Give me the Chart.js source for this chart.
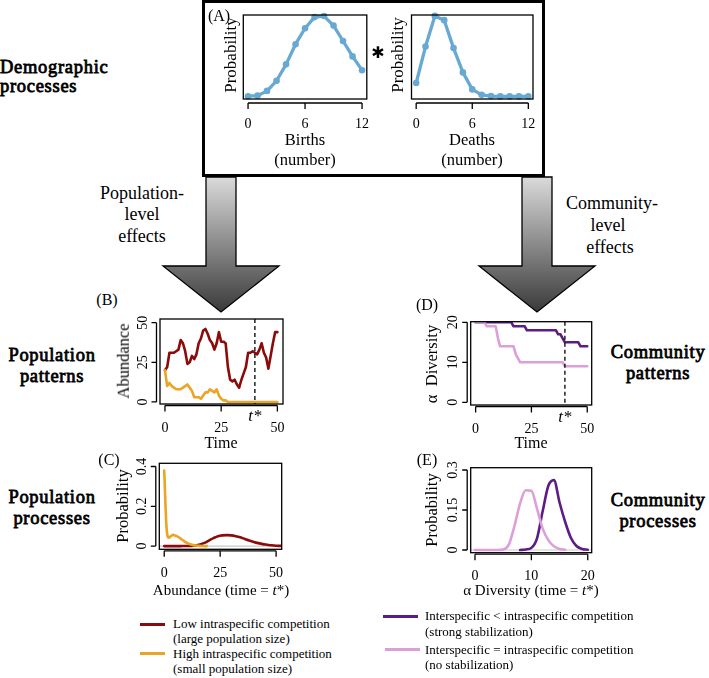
<!DOCTYPE html>
<html>
<head>
<meta charset="utf-8">
<script src="https://cdn.jsdelivr.net/npm/chart.js@4.4.0/dist/chart.umd.min.js"></script>
<style>
  body { margin: 0; background: #fff; width: 709px; height: 678px; position: relative; overflow: hidden;
         font-family: "Liberation Serif", "Times New Roman", serif; color: #000; }
  canvas { position: absolute; }
  .t { position: absolute; white-space: nowrap; line-height: 1; }
  .c { transform: translate(-50%, -50%); }
  .r { transform: translate(-50%, -50%) rotate(-90deg); }
  .l { transform: translate(0, -50%); }
  /* heavy serif headings: regular face thickened so the glyphs stay Times-like */
  .sec { font-size: 18.5px; -webkit-text-stroke: 0.8px #000; letter-spacing: 0.7px; }
  .lg { font-size: 13px; }
  .sw { position: absolute; height: 2.6px; }
</style>
</head>
<body>
<svg width="709" height="678" style="position:absolute;left:0;top:0">
  <defs>
    <linearGradient id="arrowFill" x1="0" y1="177" x2="0" y2="312" gradientUnits="userSpaceOnUse">
      <stop offset="0" stop-color="#dadada"/>
      <stop offset="1" stop-color="#3a3a3a"/>
    </linearGradient>
  </defs>
  <polygon points="206,177 236,177 236,266 279,266 221,312 163,266 206,266" fill="url(#arrowFill)" stroke="#000" stroke-width="1.3"/>
  <polygon points="522,177 552,177 552,266 595,266 537,312 479,266 522,266" fill="url(#arrowFill)" stroke="#000" stroke-width="1.3"/>
</svg>
<div style="position:absolute;left:202px;top:0;width:343px;height:177px;border:3px solid #000;box-sizing:border-box"></div>

<canvas id="cBirths"></canvas>
<canvas id="cDeaths"></canvas>
<canvas id="cPopTime"></canvas>
<canvas id="cPopDens"></canvas>
<canvas id="cComTime"></canvas>
<canvas id="cComDens"></canvas>

<!-- panel A text -->
<div class="t c" style="left:219px;top:16px;font-size:16px">(A)</div>
<div class="t r" style="left:230px;top:55px;font-size:17px">Probability</div>
<div class="t r" style="left:397px;top:55px;font-size:17px">Probability</div>
<div class="t c" style="left:305px;top:140px;font-size:16.5px">Births</div>
<div class="t c" style="left:305px;top:160px;font-size:16.5px">(number)</div>
<div class="t c" style="left:472px;top:140px;font-size:16.5px">Deaths</div>
<div class="t c" style="left:472px;top:160px;font-size:16.5px">(number)</div>
<div class="t c" style="left:378px;top:53px;font-size:16px;font-family:'DejaVu Sans'">✱</div>

<!-- section labels -->
<div class="t l sec" style="left:0px;top:67px">Demographic</div>
<div class="t l sec" style="left:0px;top:86px">processes</div>
<div class="t c sec" style="left:52px;top:355px">Population</div>
<div class="t c sec" style="left:52px;top:376px">patterns</div>
<div class="t c sec" style="left:52px;top:497px">Population</div>
<div class="t c sec" style="left:52px;top:518px">processes</div>
<div class="t c sec" style="left:658px;top:352px">Community</div>
<div class="t c sec" style="left:658px;top:373px">patterns</div>
<div class="t c sec" style="left:658px;top:500px">Community</div>
<div class="t c sec" style="left:658px;top:521px">processes</div>

<div class="t c" style="left:142px;top:193px;font-size:18px">Population-</div>
<div class="t c" style="left:142px;top:214px;font-size:18px">level</div>
<div class="t c" style="left:142px;top:236px;font-size:18px">effects</div>
<div class="t c" style="left:612px;top:203px;font-size:18px">Community-</div>
<div class="t c" style="left:608px;top:225px;font-size:18px">level</div>
<div class="t c" style="left:610px;top:247px;font-size:18px">effects</div>

<!-- panel B-E titles -->
<div class="t c" style="left:107px;top:300px;font-size:16px">(B)</div>
<div class="t r" style="left:124px;top:361px;font-size:16.5px">Abundance</div>
<div class="t c" style="left:221px;top:443px;font-size:16px">Time</div>
<div class="t c" style="left:109px;top:460px;font-size:16px">(C)</div>
<div class="t r" style="left:123px;top:506px;font-size:16.5px">Probability</div>
<div class="t c" style="left:221px;top:590px;font-size:15px">Abundance (time = <i>t</i>*)</div>
<div class="t c" style="left:427px;top:305px;font-size:16px">(D)</div>
<div class="t r" style="left:432px;top:364px;font-size:16.5px">α&nbsp; Diversity</div>
<div class="t c" style="left:531px;top:443px;font-size:16px">Time</div>
<div class="t c" style="left:427px;top:460px;font-size:16px">(E)</div>
<div class="t r" style="left:432px;top:510px;font-size:16.5px">Probability</div>
<div class="t c" style="left:531px;top:590px;font-size:15px">α Diversity (time = <i>t</i>*)</div>

<!-- legends -->
<div class="sw" style="left:140px;top:623px;width:25px;background:#8b0a0a"></div>
<div class="t l lg" style="left:173px;top:623px">Low intraspecific competition</div>
<div class="t l lg" style="left:173px;top:638px">(large population size)</div>
<div class="sw" style="left:140px;top:652px;width:25px;background:#eba424"></div>
<div class="t l lg" style="left:173px;top:653px">High intraspecific competition</div>
<div class="t l lg" style="left:173px;top:668px">(small population size)</div>
<div class="sw" style="left:383px;top:615px;width:35px;background:#5d1c84"></div>
<div class="t l lg" style="left:425px;top:615px">Interspecific &lt; intraspecific competition</div>
<div class="t l lg" style="left:425px;top:631px">(strong stabilization)</div>
<div class="sw" style="left:385px;top:648px;width:35px;background:#dd9fd8"></div>
<div class="t l lg" style="left:425px;top:649px">Interspecific = intraspecific competition</div>
<div class="t l lg" style="left:425px;top:664px">(no stabilization)</div>

<script>
// ---- data ----
const counts = [0, 1, 2, 3, 4, 5, 6, 7, 8, 9, 10, 11, 12];
const births = [0.001, 0.002, 0.011, 0.030, 0.061, 0.099, 0.129, 0.150, 0.152, 0.134, 0.105, 0.076, 0.050];
const deaths = [0.045, 0.165, 0.266, 0.252, 0.160, 0.080, 0.024, 0.006, 0.002, 0.001, 0.001, 0.001, 0.001];
const countTicks = [0, 6, 12];

const timeSteps = Array.from({length: 51}, (_, i) => i);
const lowComp = [20, 22, 31, 31, 31, 32, 33, 39, 37, 32, 24, 25, 29, 27, 30, 37, 40, 45, 46, 43,
                 39, 37, 33, 37, 44, 38, 38, 37, 22, 14, 13, 14, 11, 9, 14, 18, 22, 31, 31, 32,
                 31, 30, 33, 37, 31, 28, 21, 29, 37, 44, 44];
const highComp = [20, 10, 12, 10, 9, 8, 8, 8, 9, 10, 11, 9, 7, 3, 3, 3, 2, 4, 6, 6,
                  8, 7, 6, 8, 4, 2, 1, 1, 0, 0, 0, 0, 0, 0, 0, 0, 0, 0, 0, 0,
                  0, 0, 0, 0, 0, 0, 0, 0, 0, 0, 0];
const strongStab = [20, 20, 20, 20, 20, 20, 20, 20, 20, 20, 20, 20, 20, 20, 20, 20, 20, 19, 19, 19,
                    19, 19, 19, 18, 18, 18, 18, 18, 18, 18, 18, 18, 18, 18, 18, 18, 18, 17, 17, 16,
                    15, 15, 15, 15, 15, 15, 15, 14, 14, 14, 14];
const noStab = [20, 20, 20, 20, 20, 19, 19, 19, 19, 19, 16, 14, 14, 14, 14, 14, 14, 14, 12, 11,
                10, 10, 10, 10, 10, 10, 10, 10, 10, 10, 10, 10, 10, 10, 10, 10, 10, 10, 10, 10,
                9, 9, 9, 9, 9, 9, 9, 9, 9, 9, 9];
const timeTicks = [0, 25, 50];
const abundTicks = [0, 25, 50];
const divTicks = [0, 10, 20];
const tStar = 40;

const abundLowX = [0, 2, 4, 6, 8, 10, 12, 14, 16, 18, 20, 22, 24, 26, 28, 30, 32, 34, 36, 38, 40, 42, 44, 46, 48, 50, 52];
const densLow = [0, 0, 0, 0, 0.0002, 0.0005, 0.001, 0.003, 0.008, 0.016, 0.028, 0.04, 0.05, 0.054, 0.055,
                 0.054, 0.05, 0.044, 0.036, 0.028, 0.021, 0.015, 0.01, 0.007, 0.004, 0.002, 0.001];
const abundHighX = [0, 1, 2, 3, 4, 5, 6, 7, 8, 9, 10, 11, 12, 13, 14, 15, 16, 17, 18, 19];
const densHigh = [0.38, 0.1, 0.042, 0.05, 0.057, 0.052, 0.048, 0.04, 0.032, 0.024,
                  0.017, 0.012, 0.008, 0.005, 0.003, 0.002, 0.001, 0.0005, 0, 0];
const probTicksC = [0, 0.2, 0.4];
const probLabelsC = ['0', '0.2', '0.4'];

const divNoX = [0, 1, 2, 3, 4, 5, 6, 7, 8, 9, 10, 11, 12, 13, 14, 15, 16];
const densNo = [0, 0, 0, 0, 0, 0.002, 0.02, 0.09, 0.175, 0.224, 0.222, 0.155, 0.08, 0.037, 0.014, 0.004, 0.001];
const divStrongX = [8, 9, 10, 11, 12, 13, 14, 15, 16, 17, 18, 19, 20];
const densStrong = [0, 0.002, 0.008, 0.044, 0.145, 0.24, 0.262, 0.178, 0.105, 0.046, 0.015, 0.004, 0.001];
const probTicksE = [0, 0.15, 0.3];
const probLabelsE = ['0', '0.15', '0.3'];

// ---- colours ----
const BLUE = '#67a9d2', RED = '#8b0a0a', ORANGE = '#eba424', PURPLE = '#5d1c84', PINK = '#dd9fd8';

const xy = (xs, ys) => xs.map((x, i) => ({x, y: ys[i]}));

// R-style box, detached axes, rotated y labels
function rAxes(o) {
  return {
    id: 'rAxes',
    beforeDatasetsDraw(chart) {
      if (!o.zeroLine) return;
      const {ctx, chartArea: a, scales: {y}} = chart;
      const py = y.getPixelForValue(0);
      ctx.save();
      ctx.strokeStyle = '#c8c8c8'; ctx.lineWidth = 1.2;
      ctx.beginPath(); ctx.moveTo(a.left, py); ctx.lineTo(a.right, py); ctx.stroke();
      ctx.restore();
    },
    afterDatasetsDraw(chart) {
      const {ctx, chartArea: a, scales: {x, y}} = chart;
      ctx.save();
      ctx.strokeStyle = '#000'; ctx.fillStyle = '#000'; ctx.lineWidth = 1.3;
      ctx.strokeRect(a.left, a.top, a.right - a.left, a.bottom - a.top);
      if (o.tStar != null) {
        const px = x.getPixelForValue(o.tStar);
        ctx.setLineDash([4, 3]);
        ctx.beginPath(); ctx.moveTo(px, a.top); ctx.lineTo(px, a.bottom); ctx.stroke();
        ctx.setLineDash([]);
        ctx.font = 'italic 17px "Liberation Serif"';
        ctx.textAlign = 'center'; ctx.textBaseline = 'middle';
        ctx.fillText('t*', px, a.bottom + 13);
      }
      ctx.font = '14px "Liberation Serif"';
      ctx.textAlign = 'center'; ctx.textBaseline = 'middle';
      const ay = a.bottom + o.gapX;
      const xp = o.xTicks.map(v => x.getPixelForValue(v));
      ctx.beginPath();
      ctx.moveTo(xp[0], ay); ctx.lineTo(xp[xp.length - 1], ay);
      xp.forEach(p => { ctx.moveTo(p, ay); ctx.lineTo(p, ay + 6); });
      ctx.stroke();
      o.xTicks.forEach((v, i) => ctx.fillText(String(v), xp[i], ay + o.xLab));
      if (o.yTicks) {
        const ax = a.left - 3.5;
        const yp = o.yTicks.map(v => y.getPixelForValue(v));
        ctx.beginPath();
        ctx.moveTo(ax, yp[0]); ctx.lineTo(ax, yp[yp.length - 1]);
        yp.forEach(p => { ctx.moveTo(ax, p); ctx.lineTo(ax - 5, p); });
        ctx.stroke();
        o.yLabels.forEach((s, i) => {
          ctx.save();
          ctx.translate(ax - 13.5, yp[i]);
          ctx.rotate(-Math.PI / 2);
          ctx.fillText(s, 0, 0);
          ctx.restore();
        });
      }
      ctx.restore();
    }
  };
}

function panel(id, area, xr, yr, datasets, axes) {
  const cl = Math.floor(area.l - 52), ct = Math.floor(area.t - 8);
  const cw = Math.ceil(area.r + 8) - cl, ch = Math.ceil(area.b + 40) - ct;
  const cv = document.getElementById(id);
  cv.width = cw; cv.height = ch;
  Object.assign(cv.style, {left: cl + 'px', top: ct + 'px', width: cw + 'px', height: ch + 'px'});
  return new Chart(cv, {
    type: 'line',
    data: {datasets},
    options: {
      responsive: false,
      animation: false,
      devicePixelRatio: 1,
      layout: {padding: {left: area.l - cl, top: area.t - ct, right: cl + cw - area.r, bottom: ct + ch - area.b}},
      plugins: {legend: {display: false}, tooltip: {enabled: false}},
      scales: {
        x: {type: 'linear', min: xr[0], max: xr[1], display: false},
        y: {type: 'linear', min: yr[0], max: yr[1], display: false}
      }
    },
    plugins: [rAxes(axes)]
  });
}

function series(data, color, width, extra) {
  return Object.assign({
    data, borderColor: color, backgroundColor: color, borderWidth: width,
    pointRadius: 0, fill: false, borderJoinStyle: 'round', borderCapStyle: 'round'
  }, extra || {});
}

const dots = {pointRadius: 3.3, pointBorderWidth: 0, pointBackgroundColor: BLUE, clip: 8};

// (A) births and deaths
panel('cBirths', {l: 243.3, r: 366.8, t: 15, b: 99}, [-0.5, 12.5],
  [-0.0043, 0.154], [series(xy(counts, births), BLUE, 3.3, dots)],
  {xTicks: countTicks, gapX: 4, xLab: 21});
panel('cDeaths', {l: 411.5, r: 533, t: 15, b: 99}, [-0.5, 12.5],
  [-0.0076, 0.269], [series(xy(counts, deaths), BLUE, 3.3, dots)],
  {xTicks: countTicks, gapX: 4, xLab: 21});

// (B) population abundance through time
panel('cPopTime', {l: 160, r: 283, t: 319, b: 404}, [-2.2, 52.5], [-1.3, 52.3], [
  series(xy(timeSteps, highComp), ORANGE, 2.6),
  series(xy(timeSteps, lowComp), RED, 2.6)
], {xTicks: timeTicks, gapX: 1.5, xLab: 22.5, yTicks: abundTicks, yLabels: abundTicks.map(String), tStar});

// (C) abundance distributions at t*
panel('cPopDens', {l: 159.3, r: 281.7, t: 463.3, b: 549.3}, [-2.2, 52.5], [-0.016, 0.416], [
  series(xy(abundHighX, densHigh), ORANGE, 2.6, {cubicInterpolationMode: 'monotone'}),
  series(xy(abundLowX, densLow), RED, 2.6, {cubicInterpolationMode: 'monotone'})
], {xTicks: abundTicks, gapX: 1.5, xLab: 23, yTicks: probTicksC, yLabels: probLabelsC, zeroLine: true});

// (D) alpha diversity through time
panel('cComTime', {l: 470.7, r: 591.7, t: 321.7, b: 405}, [-2.2, 52], [-0.675, 20.15], [
  series(xy(timeSteps, noStab), PINK, 2.6),
  series(xy(timeSteps, strongStab), PURPLE, 2.6)
], {xTicks: timeTicks, gapX: 1.5, xLab: 22.5, yTicks: divTicks, yLabels: divTicks.map(String), tStar});

// (E) diversity distributions at t*
panel('cComDens', {l: 470.7, r: 591.7, t: 467.7, b: 552.7}, [-0.76, 20.7], [-0.0101, 0.3086], [
  series(xy(divNoX, densNo), PINK, 2.6, {cubicInterpolationMode: 'monotone'}),
  series(xy(divStrongX, densStrong), PURPLE, 2.6, {cubicInterpolationMode: 'monotone'})
], {xTicks: divTicks, gapX: 1.5, xLab: 22, yTicks: probTicksE, yLabels: probLabelsE, zeroLine: true});
</script>
</body>
</html>
